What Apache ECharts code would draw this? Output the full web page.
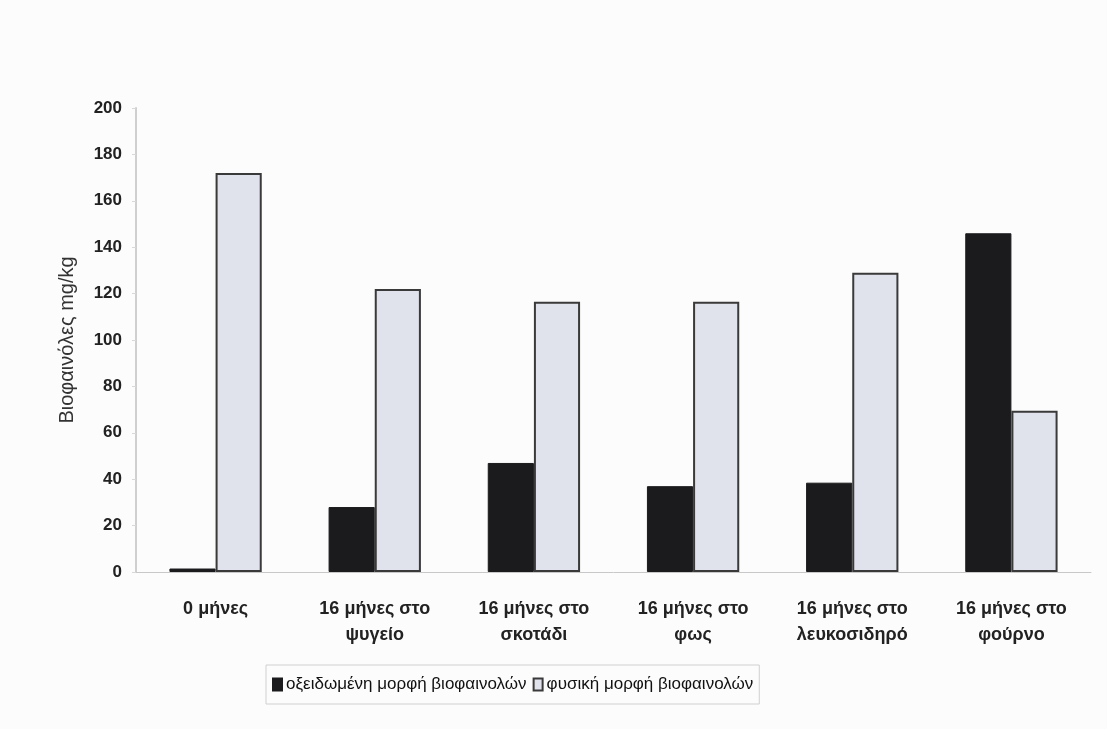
<!DOCTYPE html>
<html>
<head>
<meta charset="utf-8">
<script src="https://cdn.jsdelivr.net/npm/echarts@6/dist/echarts.min.js"></script>
<style>
  html, body { margin: 0; padding: 0; background: #fcfcfd; }
  #chart { width: 1107px; height: 729px; }
</style>
</head>
<body>
<div id="chart"></div>
<script>
var categories = [
  "0 μήνες",
  "16 μήνες στο\nψυγείο",
  "16 μήνες στο\nσκοτάδι",
  "16 μήνες στο\nφως",
  "16 μήνες στο\nλευκοσιδηρό",
  "16 μήνες στο\nφούρνο"
];
var seriesNames = ["οξειδωμένη μορφή βιοφαινολών", "φυσική μορφή βιοφαινολών"];
var oxidised = [1.5, 28, 47, 37, 38.5, 146];
var natural = [172, 122, 116.5, 116.5, 129, 69.5];

var chart = echarts.init(document.getElementById("chart"));
var font = "Liberation Sans, Arial, sans-serif";

var option = {
  backgroundColor: "#fcfcfd",
  animation: false,
  grid: { left: 136, right: 16, top: 108, bottom: 157 },
  legend: {
    top: 665,
    left: 266,
    itemWidth: 9,
    itemHeight: 12,
    itemGap: 6,
    padding: [11, 6],
    borderColor: "#d0d0d0",
    borderWidth: 1,
    textStyle: { fontFamily: font, fontSize: 17, color: "#111", padding: [0, 0, 0, -1] },
    data: [
      { name: seriesNames[0], icon: "rect" },
      { name: seriesNames[1], icon: "rect" }
    ]
  },
  xAxis: {
    type: "category",
    data: categories,
    axisLine: { lineStyle: { color: "#c8c8c8", width: 1 } },
    axisTick: { show: false },
    axisLabel: {
      fontFamily: font, fontSize: 18, fontWeight: "bold", color: "#222",
      margin: 24, lineHeight: 26, interval: 0
    }
  },
  yAxis: {
    type: "value",
    min: 0,
    max: 200,
    interval: 20,
    name: "Βιοφαινόλες mg/kg",
    nameLocation: "middle",
    nameGap: 59,
    nameTextStyle: { fontFamily: font, fontSize: 20, color: "#333" },
    axisLine: { show: true, lineStyle: { color: "#cfcfcf", width: 2 } },
    axisTick: { show: true, length: 4, lineStyle: { color: "#d8d8d8" } },
    splitLine: { show: false },
    axisLabel: { fontFamily: font, fontSize: 17, fontWeight: "bold", color: "#222", margin: 14 }
  },
  series: [
    {
      name: seriesNames[0],
      type: "bar",
      data: oxidised,
      barGap: "0%",
      barCategoryGap: "42%",
      itemStyle: { color: "#1b1b1d", borderColor: "#1b1b1d", borderWidth: 1 }
    },
    {
      name: seriesNames[1],
      type: "bar",
      data: natural,
      itemStyle: { color: "#e1e3ec", borderColor: "#3a3a3a", borderWidth: 2 }
    }
  ]
};
option && chart.setOption(option);
</script>
</body>
</html>
